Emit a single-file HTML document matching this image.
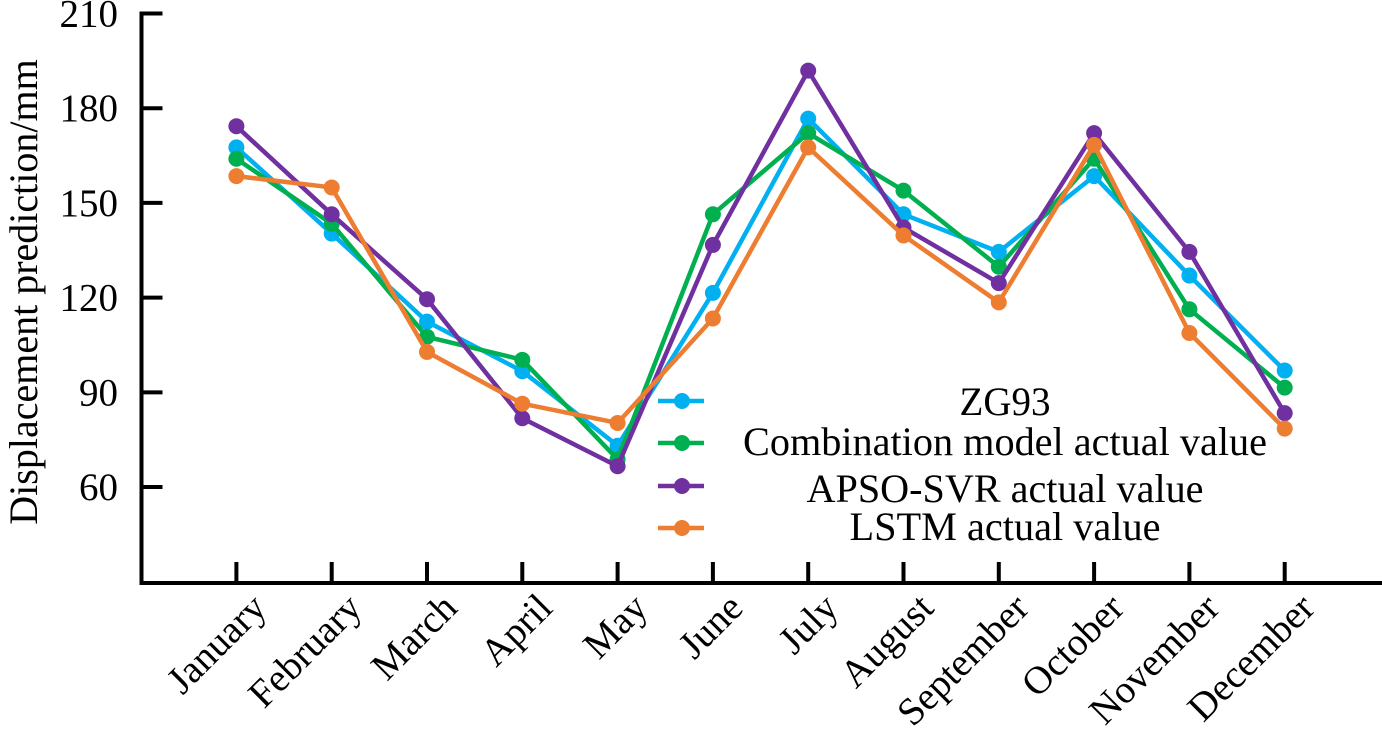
<!DOCTYPE html>
<html><head><meta charset="utf-8"><style>html,body{margin:0;padding:0;background:#fff}svg{display:block}</style></head>
<body>
<svg id="chart" width="1382" height="737" viewBox="0 0 1382 737" xmlns="http://www.w3.org/2000/svg" font-family="Liberation Serif, serif">
<g id="plot"></g>
</svg>
<script>
const months = ["January","February","March","April","May","June","July","August","September","October","November","December"];
const yTicks = [60, 90, 120, 150, 180, 210];
const seriesNames = ["ZG93","Combination model actual value","APSO-SVR actual value","LSTM actual value"];
const zg93 = [167.6,140.3,112.4,96.7,73.1,121.5,176.7,146.4,134.5,158.5,127.0,96.9];
const combination = [164.0,143.4,107.6,100.3,68.8,146.4,172.1,153.9,129.8,164.0,116.3,91.5];
const apsoSvr = [174.3,146.4,119.5,81.8,66.6,136.7,191.9,142.2,124.6,172.1,134.5,83.4];
const lstm = [158.5,154.9,102.8,86.4,80.3,113.4,167.6,139.7,118.5,168.4,108.8,78.5];

const colors = ["#00b0f0","#00b050","#7030a0","#ed7d31"];
const allSeries = [zg93, combination, apsoSvr, lstm];
const NS = "http://www.w3.org/2000/svg";
const g = document.getElementById("plot");
const x0 = 141.5, x1 = 1382, yBase = 583;
function xScale(i){ return 236.4 + i * 95.3; }
function yScale(v){ return 13.5 + (210 - v) * 3.157; }
function mk(tag, attrs, parent){ const e = document.createElementNS(NS, tag); for (const k in attrs) e.setAttribute(k, attrs[k]); (parent||g).appendChild(e); return e; }

// axes
let ax = mk("path", {d:`M${x0} 11.5 V${yBase} H${x1}`, fill:"none", stroke:"#000", "stroke-width":4});


yTicks.forEach(v => {
  const y = yScale(v);
  let t = mk("line", {x1:x0, x2:x0+21, y1:y, y2:y, stroke:"#000", "stroke-width":4});
  
  
  let l = mk("text", {x:118, y:y+13, "text-anchor":"end", "font-size":39});
  
  
  l.textContent = v;
});
months.forEach((m, i) => {
  const x = xScale(i);
  let t = mk("line", {x1:x, x2:x, y1:yBase, y2:yBase-21, stroke:"#000", "stroke-width":4});
  
  
  const ax2 = x + 32, ay2 = 610;
  let l = mk("text", {x:ax2, y:ay2, "text-anchor":"end", "font-size":39, transform:`rotate(-45 ${ax2} ${ay2})`});
  
  
  l.textContent = m;
});
let yt = mk("text", {x:0, y:0, "text-anchor":"middle", "font-size":40, transform:"translate(37 292) rotate(-90)"});


yt.textContent = "Displacement prediction/mm";

// series
allSeries.forEach((s, k) => {
  const sg = mk("g", {});
  
  
  const pts = s.map((v, i) => `${xScale(i)},${yScale(v)}`).join(" ");
  let pl = mk("polyline", {points:pts, fill:"none", stroke:colors[k], "stroke-width":4.5, "stroke-linejoin":"round"}, sg);
  
  
  s.forEach((v, i) => {
    let c = mk("circle", {cx:xScale(i), cy:yScale(v), r:8, fill:colors[k]}, sg);
    
    
  });
});

// legend
const legY = [401, 443, 486, 528];
const legTextY = [415, 455, 502, 540];
const legW = [91, 524, 397, 311];
seriesNames.forEach((n, k) => {
  const lg = mk("g", {});
  
  
  mk("line", {x1:658, x2:704, y1:legY[k], y2:legY[k], stroke:colors[k], "stroke-width":4.5}, lg);
  mk("circle", {cx:682, cy:legY[k], r:8, fill:colors[k]}, lg);
  const attrs = {x:1005, y:legTextY[k], "text-anchor":"middle", "font-size":40, textLength:legW[k], lengthAdjust:"spacingAndGlyphs"};
  let t = mk("text", attrs, lg);
  
  
  t.textContent = n;
});
</script>
</body></html>
